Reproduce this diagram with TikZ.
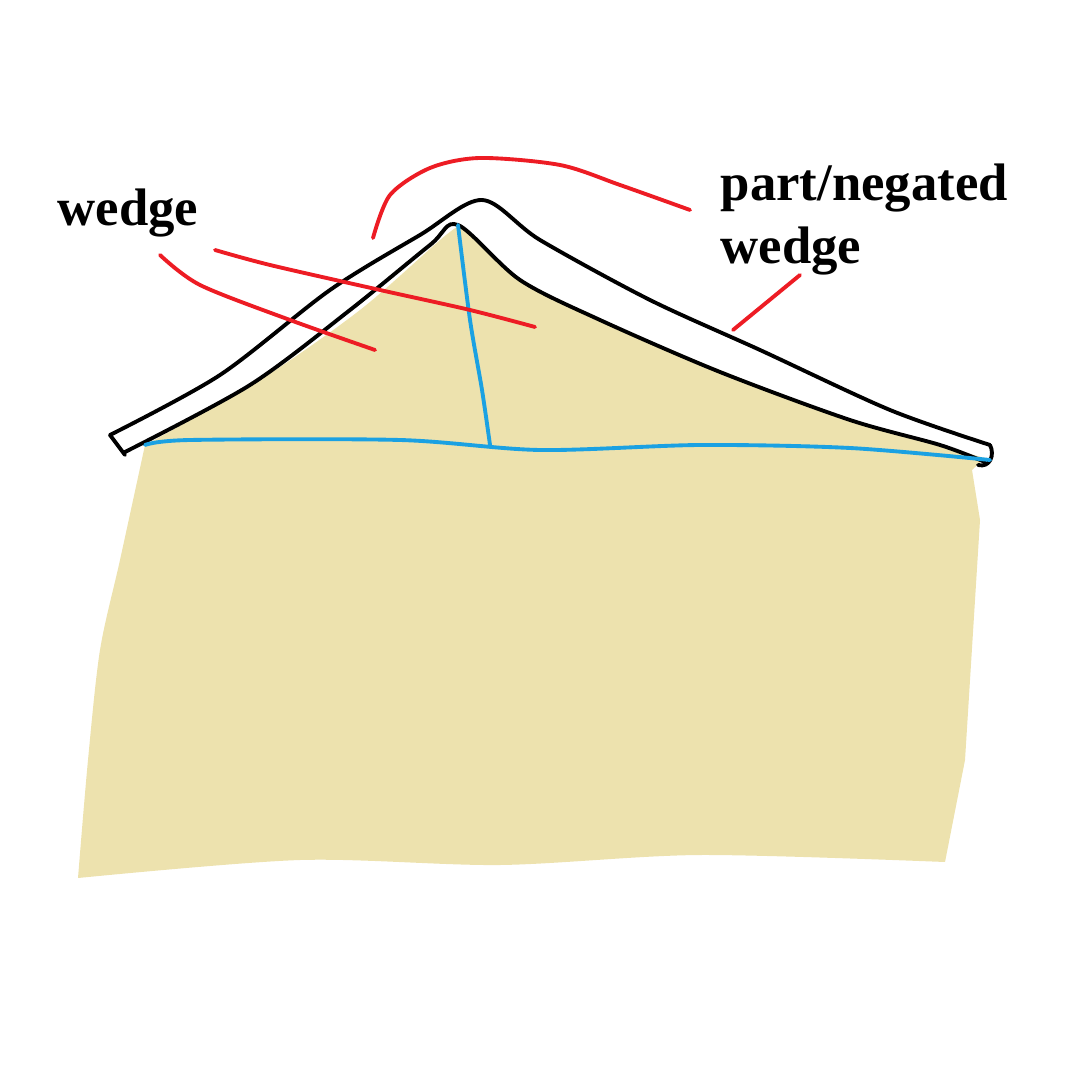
\documentclass[tikz,border=0pt]{standalone}
\usepackage{fontspec}
\setmainfont{Liberation Serif}
\definecolor{tan}{HTML}{EDE2AE}
\definecolor{pblue}{HTML}{1BA1E2}
\definecolor{pred}{HTML}{ED1C24}
\begin{document}
\begin{tikzpicture}[x=0.01cm,y=-0.01cm,
  ink/.style={line width=1.1pt,line join=round,line cap=round},
  lbl/.style={font=\fontsize{15}{18}\selectfont\bfseries,inner sep=0pt,align=left}]
\useasboundingbox (0,0) rectangle (1080,1080);
\fill[tan] plot[smooth] coordinates {(145,445) (260,380) (360,310) (440,240) (460,225)}
  -- plot[smooth] coordinates {(460,225) (520,280) (600,320) (720,370) (850,420) (985,458)}
  -- (972,470) -- (980,520) -- (975,600) -- (965,760) -- (945,862)
  -- plot[smooth] coordinates {(945,862) (700,855) (500,865) (300,860) (78,878)}
  -- plot[smooth] coordinates {(78,878) (88,760) (100,650) (120,560) (145,445)} -- cycle;
% inner black line
\draw[ink] plot[smooth] coordinates {(125,452) (250,385) (350,310) (430,245) (458,225) (520,280) (600,320) (720,372) (850,420) (940,445) (985,462)};
% outer black line
\draw[ink] plot[smooth] coordinates {(110,435) (220,375) (330,290) (420,235) (482,200) (540,240) (650,300) (760,350) (890,410) (990,445)};
\draw[ink] (110,435) -- (125,455);
\draw[ink] (990,445) .. controls (995,455) and (990,468) .. (978,465);
% blue
\draw[pblue,ink] plot[smooth] coordinates {(145,445) (190,440) (400,440) (540,450) (700,445) (850,448) (990,460)};
\draw[pblue,ink] plot[smooth] coordinates {(458,225) (470,320) (482,390) (490,445)};
% red
\draw[pred,ink] plot[smooth] coordinates {(373,238) (390,195) (430,168) (480,158) (560,165) (620,185) (690,210)};
\draw[pred,ink] plot[smooth] coordinates {(160,255) (200,285) (290,320) (375,350)};
\draw[pred,ink] plot[smooth] coordinates {(215,250) (270,265) (380,290) (470,310) (535,327)};
\draw[pred,ink] (800,275) -- (733,330);
\node[lbl,anchor=west] (w) at (57,213) {wedge};
\node[lbl,anchor=north west] (p) at (720,163) {part/negated\\wedge};
\end{tikzpicture}
\end{document}
